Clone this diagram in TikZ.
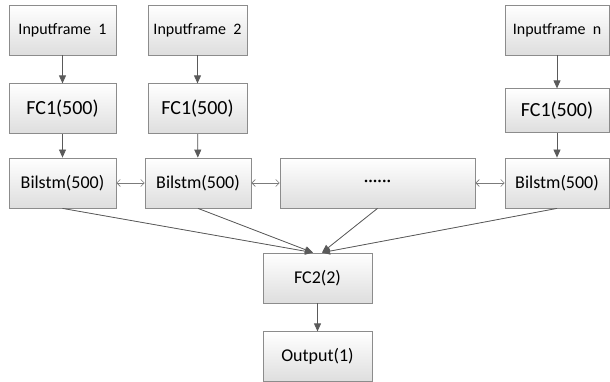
\documentclass[tikz,border=0pt]{standalone}
\usepackage{fontspec}
\setmainfont{Carlito}
\usetikzlibrary{arrows.meta,positioning}

\definecolor{boxline}{HTML}{8C8C8C}
\definecolor{arrline}{HTML}{5A5A5A}

\begin{document}
\begin{tikzpicture}[
  x=1pt, y=-1pt,
  layer/.style={rectangle, draw=boxline, line width=0.8pt, top color=white, bottom color=black!13,
    minimum height=50pt, inner sep=0pt, font=\fontsize{18}{20}\selectfont},
  inbox/.style={layer, font=\fontsize{16}{18}\selectfont},
  fcbox/.style={layer, font=\fontsize{20}{22}\selectfont},
  arr/.style={-{Triangle[length=8pt, width=7pt]}, draw=arrline, fill=arrline, line width=0.8pt},
  link/.style={{Straight Barb[length=3.5pt, width=7pt]}-{Straight Barb[length=3.5pt, width=7pt]}, draw=arrline!80, line width=0.6pt},
  node distance=28pt
]
  \useasboundingbox (0,0) rectangle (610,382);

  % inputs
  \node[inbox, minimum width=107pt] (in1) at (62.5,30) {Inputframe~~1};
  \node[inbox, minimum width=99pt] (in2) at (197.5,30) {Inputframe~~2};
  \node[inbox, minimum width=104pt] (inn) at (557,30) {Inputframe~~n};

  % first dense layer
  \node[fcbox, minimum width=107pt, below=of in1] (fc1a) {FC1(500)};
  \node[fcbox, minimum width=99pt, below=of in2] (fc1b) {FC1(500)};
  \node[fcbox, minimum width=104pt, minimum height=44pt, below=33pt of inn] (fc1n) {FC1(500)};

  % recurrent layer
  \node[layer, minimum width=107pt] (bl1) at (62.5,183) {Bilstm(500)};
  \node[layer, minimum width=106pt] (bl2) at (198,183) {Bilstm(500)};
  \node[layer, minimum width=195pt] (dots) at (377.5,183) {\textperiodcentered\textperiodcentered\textperiodcentered\textperiodcentered\textperiodcentered\textperiodcentered};
  \node[layer, minimum width=104pt] (bln) at (557,183) {Bilstm(500)};

  % output side
  \node[layer, minimum width=109pt] (fc2) at (317.5,278) {FC2(2)};
  \node[layer, minimum width=109pt, below=of fc2] (out) {Output(1)};

  \draw[arr] (in1) -- (fc1a);
  \draw[arr] (in2) -- (fc1b);
  \draw[arr] (inn) -- (fc1n);
  \draw[arr] (fc1a) -- (bl1);
  \draw[arr] (fc1b) -- (bl2);
  \draw[arr] (fc1n) -- (bln);

  \draw[link] (bl1) -- (bl2);
  \draw[link] (bl2) -- (dots);
  \draw[link] (dots) -- (bln);

  \draw[arr] (bl1.south) -- ([xshift=-4.5pt]fc2.north);
  \draw[arr] (bl2.south) -- ([xshift=-4.5pt]fc2.north);
  \draw[arr] (dots.south) -- ([xshift=4.5pt]fc2.north);
  \draw[arr] (bln.south) -- ([xshift=4.5pt]fc2.north);
  \draw[arr] (fc2) -- (out);
\end{tikzpicture}
\end{document}
